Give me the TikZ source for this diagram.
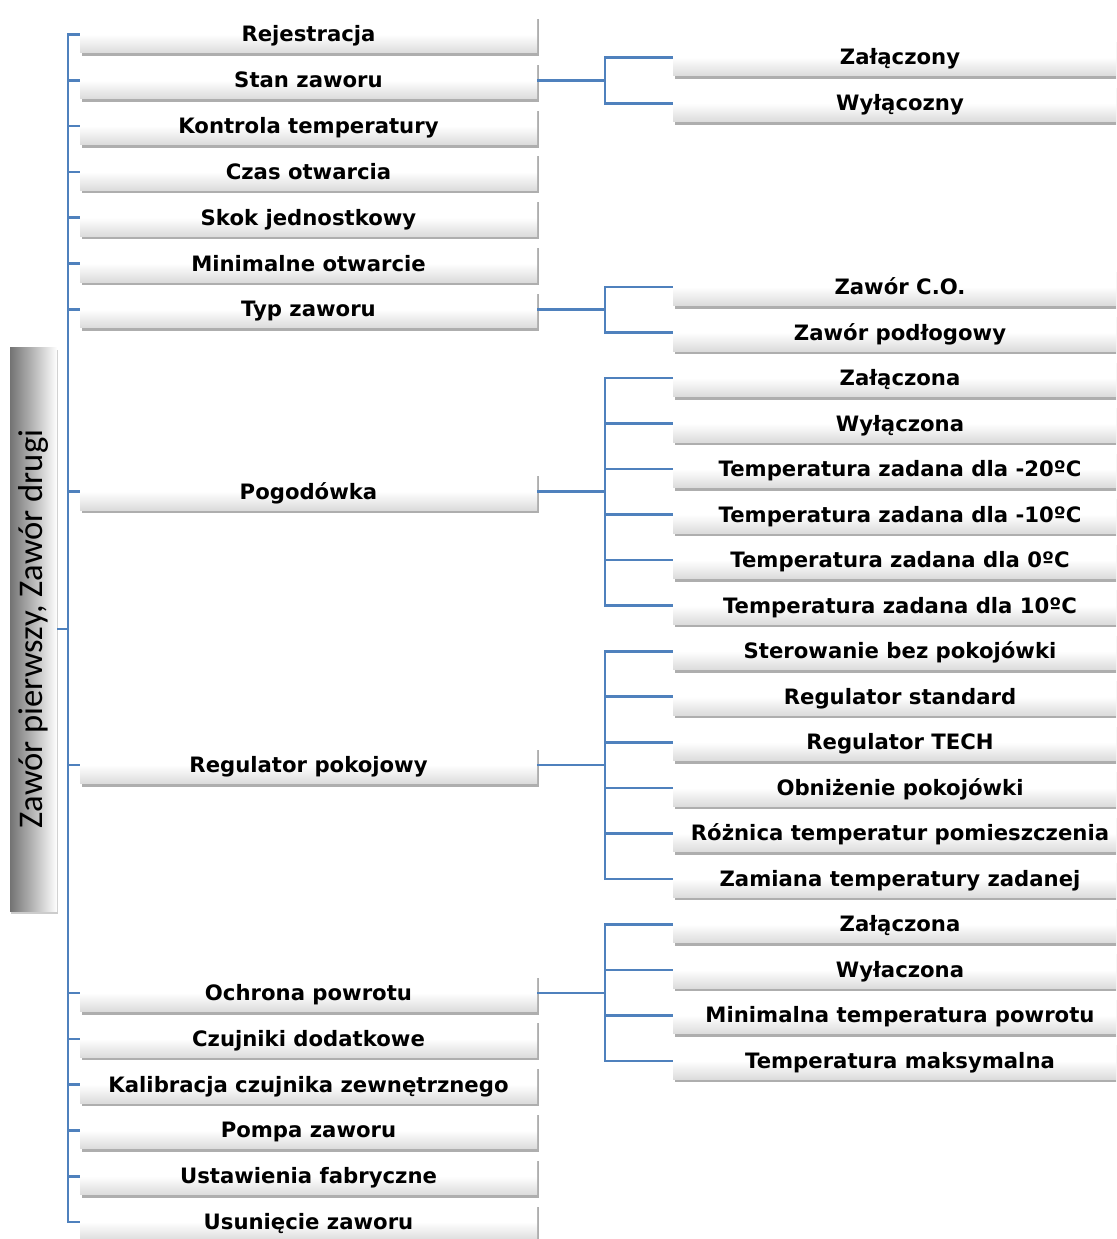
\documentclass[tikz,border=0pt]{standalone}
\usepackage{fontspec}
\setmainfont{DejaVu Sans}
\newfontfamily\rootfont{Carlito}
\usetikzlibrary{shadows}
\definecolor{linkblue}{HTML}{4F81BD}

\tikzset{
	item/.style = {minimum width = 457pt, minimum height = 37pt, inner sep = 0pt, text height = 19pt, text depth = 4pt,
		top color = white, bottom color = black!14, middle color = white,
		drop shadow = {shadow xshift = 1.5pt, shadow yshift = -3pt, opacity = 0.45, fill = black!70},
		font = \fontsize{21.2}{25}\selectfont\bfseries},
	sub/.style = {item, minimum width = 454pt},
	link/.style = {draw = linkblue, line width = 2.6pt},
}

\begin{document}
\begin{tikzpicture}[x = 1pt, y = -1pt]
		\useasboundingbox (0,0) rectangle (1116,1239);
		\clip (0,0) rectangle (1116,1239);
		\node[minimum width = 47pt, minimum height = 564pt, inner sep = 0pt, left color = black!55, right color = white,
			drop shadow = {shadow xshift = 1pt, shadow yshift = -3pt, opacity = 0.4}, font = \rootfont\fontsize{34.6}{36}\selectfont]
			(root) at (33.5,629) {\rotatebox{90}{Zawór pierwszy, Zawór drugi}};
		\node[item] (l1) at (308.5,34.5) {Rejestracja};
		\node[item] (l2) at (308.5,80.3) {Stan zaworu};
		\node[item] (l3) at (308.5,126.1) {Kontrola temperatury};
		\node[item] (l4) at (308.5,171.9) {Czas otwarcia};
		\node[item] (l5) at (308.5,217.7) {Skok jednostkowy};
		\node[item] (l6) at (308.5,263.5) {Minimalne otwarcie};
		\node[item] (l7) at (308.5,309.3) {Typ zaworu};
		\node[item] (l8) at (308.5,491.5) {Pogodówka};
		\node[item] (l9) at (308.5,765) {Regulator pokojowy};
		\node[item] (l10) at (308.5,993) {Ochrona powrotu};
		\node[item] (l11) at (308.5,1038.8) {Czujniki dodatkowe};
		\node[item] (l12) at (308.5,1084.6) {Kalibracja czujnika zewnętrznego};
		\node[item] (l13) at (308.5,1130.4) {Pompa zaworu};
		\node[item] (l14) at (308.5,1176.2) {Ustawienia fabryczne};
		\node[item] (l15) at (308.5,1222) {Usunięcie zaworu};
		\node[sub] (r1) at (900,57.4) {Załączony};
		\node[sub] (r2) at (900,103.2) {Wyłącozny};
		\node[sub] (r3) at (900,287) {Zawór C.O.};
		\node[sub] (r4) at (900,332.5) {Zawór podłogowy};
		\node[sub] (r5) at (900,378.1) {Załączona};
		\node[sub] (r6) at (900,423.6) {Wyłączona};
		\node[sub] (r7) at (900,469.1) {Temperatura zadana dla -20ºC};
		\node[sub] (r8) at (900,514.6) {Temperatura zadana dla -10ºC};
		\node[sub] (r9) at (900,560.1) {Temperatura zadana dla 0ºC};
		\node[sub] (r10) at (900,605.7) {Temperatura zadana dla 10ºC};
		\node[sub] (r11) at (900,651.2) {Sterowanie bez pokojówki};
		\node[sub] (r12) at (900,696.7) {Regulator standard};
		\node[sub] (r13) at (900,742.2) {Regulator TECH};
		\node[sub] (r14) at (900,787.8) {Obniżenie pokojówki};
		\node[sub] (r15) at (900,833.3) {Różnica temperatur pomieszczenia};
		\node[sub] (r16) at (900,878.8) {Zamiana temperatury zadanej};
		\node[sub] (r17) at (900,924.3) {Załączona};
		\node[sub] (r18) at (900,969.9) {Wyłaczona};
		\node[sub] (r19) at (900,1015.4) {Minimalna temperatura powrotu};
		\node[sub] (r20) at (900,1060.9) {Temperatura maksymalna};
		\coordinate (spine) at (68,629);
		\coordinate (b2) at (605,80.3);
		\coordinate (b7) at (605,309.3);
		\coordinate (b8) at (605,491.5);
		\coordinate (b9) at (605,765);
		\coordinate (b10) at (605,993);
		\draw[link] (root.east) -- (spine);
		\draw[link] (spine) |- (l1.west);
		\draw[link] (spine) |- (l2.west);
		\draw[link] (spine) |- (l3.west);
		\draw[link] (spine) |- (l4.west);
		\draw[link] (spine) |- (l5.west);
		\draw[link] (spine) |- (l6.west);
		\draw[link] (spine) |- (l7.west);
		\draw[link] (spine) |- (l8.west);
		\draw[link] (spine) |- (l9.west);
		\draw[link] (spine) |- (l10.west);
		\draw[link] (spine) |- (l11.west);
		\draw[link] (spine) |- (l12.west);
		\draw[link] (spine) |- (l13.west);
		\draw[link] (spine) |- (l14.west);
		\draw[link] (spine) |- (l15.west);
		\draw[link] (l2.east) -- (b2);
		\draw[link] (b2) |- (r1.west);
		\draw[link] (b2) |- (r2.west);
		\draw[link] (l7.east) -- (b7);
		\draw[link] (b7) |- (r3.west);
		\draw[link] (b7) |- (r4.west);
		\draw[link] (l8.east) -- (b8);
		\draw[link] (b8) |- (r5.west);
		\draw[link] (b8) |- (r6.west);
		\draw[link] (b8) |- (r7.west);
		\draw[link] (b8) |- (r8.west);
		\draw[link] (b8) |- (r9.west);
		\draw[link] (b8) |- (r10.west);
		\draw[link] (l9.east) -- (b9);
		\draw[link] (b9) |- (r11.west);
		\draw[link] (b9) |- (r12.west);
		\draw[link] (b9) |- (r13.west);
		\draw[link] (b9) |- (r14.west);
		\draw[link] (b9) |- (r15.west);
		\draw[link] (b9) |- (r16.west);
		\draw[link] (l10.east) -- (b10);
		\draw[link] (b10) |- (r17.west);
		\draw[link] (b10) |- (r18.west);
		\draw[link] (b10) |- (r19.west);
		\draw[link] (b10) |- (r20.west);
	\end{tikzpicture}
\end{document}
